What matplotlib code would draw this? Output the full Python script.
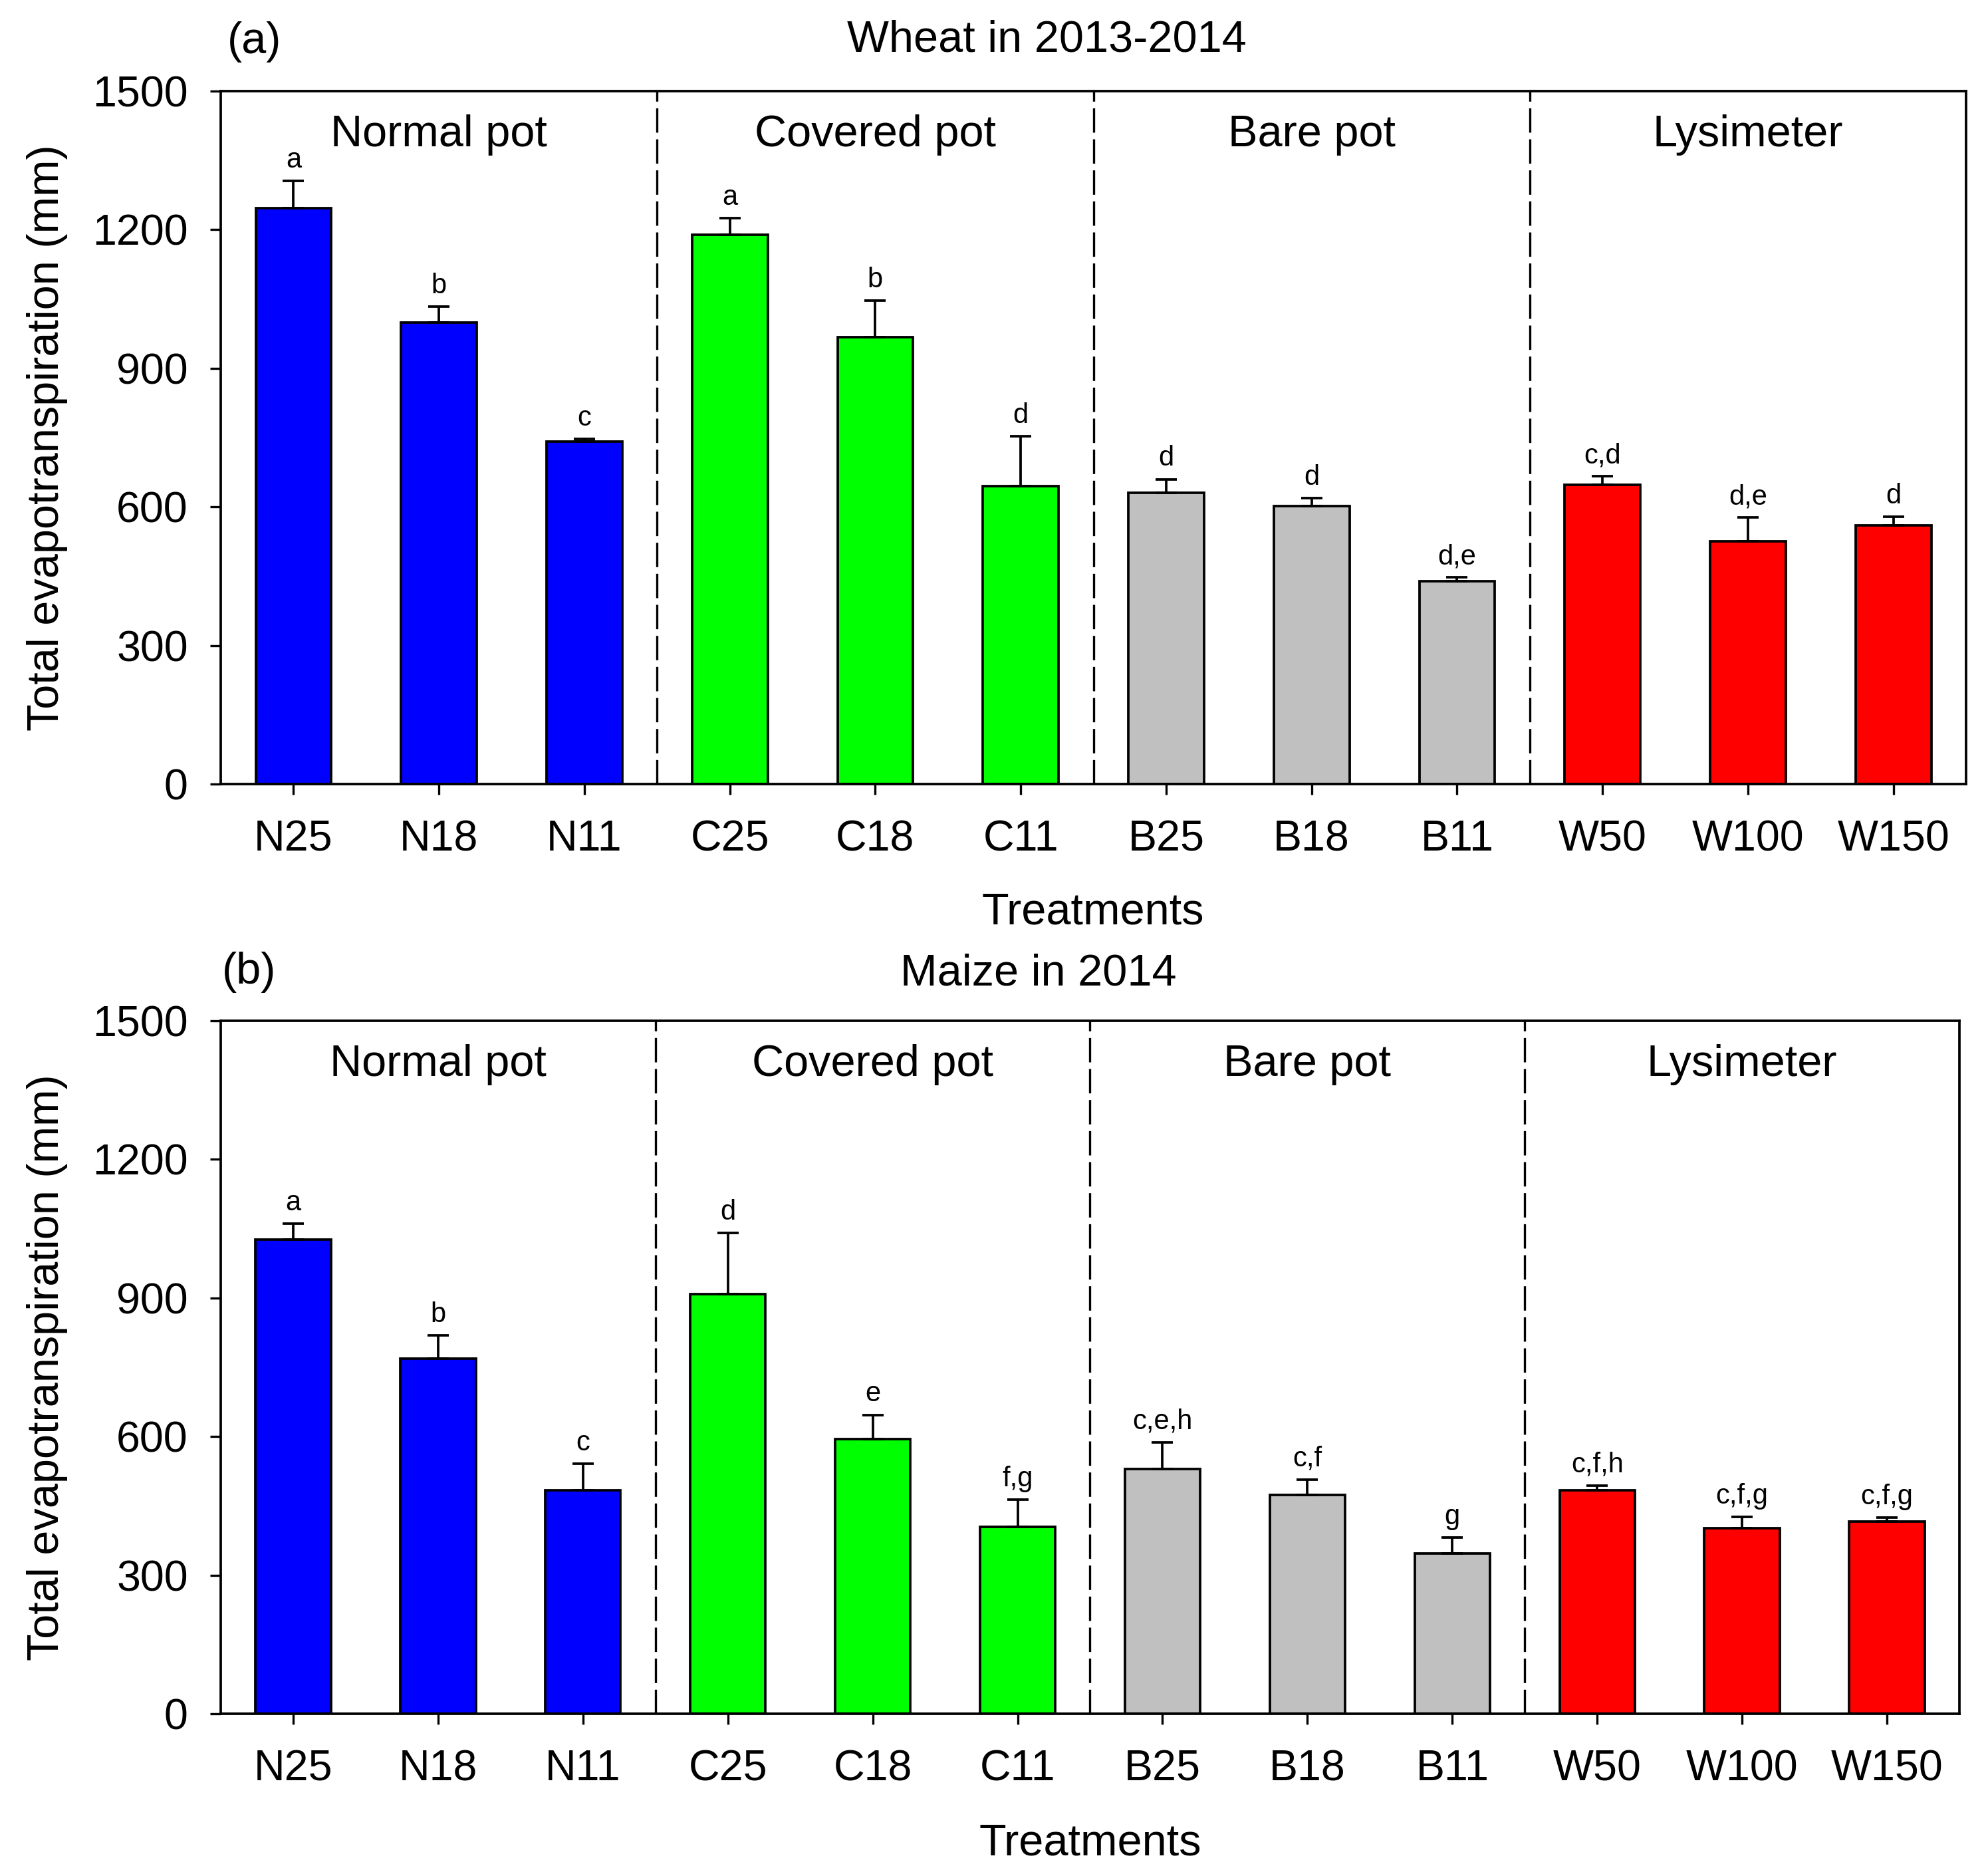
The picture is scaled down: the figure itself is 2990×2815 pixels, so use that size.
import matplotlib
matplotlib.use("Agg")
import matplotlib.pyplot as plt
import numpy as np

plt.rcParams['font.family'] = ['Liberation Sans', 'DejaVu Sans']

treatments = ["N25", "N18", "N11", "C25", "C18", "C11", "B25", "B18", "B11", "W50", "W100", "W150"]
groups = ["Normal pot", "Covered pot", "Bare pot", "Lysimeter"]
group_colors = ["#0000FF", "#00FF00", "#C0C0C0", "#FF0000"]

wheat_et = [1247, 999, 742, 1189, 968, 645, 631, 602, 439, 648, 525, 560]
wheat_se = [59, 34, 5, 36, 79, 108, 29, 17, 8, 18, 52, 18]
wheat_letters = ["a", "b", "c", "a", "b", "d", "d", "d", "d,e", "c,d", "d,e", "d"]

maize_et = [1027, 769, 484, 909, 594, 404, 530, 473, 347, 483, 401, 416]
maize_se = [34, 50, 57, 132, 53, 59, 58, 34, 34, 11, 25, 8]
maize_letters = ["a", "b", "c", "d", "e", "f,g", "c,e,h", "c,f", "g", "c,f,h", "c,f,g", "c,f,g"]

W, H = 2990, 2815
fig = plt.figure(figsize=(W / 300, H / 300), dpi=300)

def fx(px):
    return px / W

def fy(py):
    return 1 - py / H

def panel(rect, vals, errs, letters):
    ax = fig.add_axes(rect)
    x = np.arange(len(treatments))
    colors = [group_colors[i // 3] for i in range(len(treatments))]
    ax.bar(x, vals, width=0.52, color=colors, edgecolor="black", linewidth=0.9, zorder=2)
    ax.errorbar(x, vals, yerr=[np.zeros(len(vals)), errs], fmt="none", ecolor="black",
                elinewidth=0.9, capsize=3.8, capthick=0.9, zorder=3)
    for xi, v, e, lab in zip(x, vals, errs, letters):
        ax.text(xi, v + e + 16, lab, ha="center", va="bottom", fontsize=10)
    for b in [2.5, 5.5, 8.5]:
        ax.axvline(b, color="black", linewidth=0.8, linestyle=(0, (11, 3)), zorder=1)
    for gi, g in enumerate(groups):
        ax.text(3 * gi + 1, 1405, g, ha="center", va="center", fontsize=16)
    ax.set_xlim(-0.5, 11.5)
    ax.set_ylim(0, 1500)
    ax.set_yticks([0, 300, 600, 900, 1200, 1500])
    ax.set_xticks(x)
    ax.set_xticklabels(treatments)
    ax.tick_params(axis="both", direction="out", labelsize=15.5, width=0.8, length=3.8)
    ax.tick_params(axis="x", pad=9)
    ax.tick_params(axis="y", pad=8)
    for s in ax.spines.values():
        s.set_linewidth(0.9)
    return ax

# top panel
ax1 = panel([fx(332), fy(1179), fx(2957) - fx(332), fy(137) - fy(1179)], wheat_et, wheat_se, wheat_letters)
fig.text(fx(342), fy(63), "(a)", ha="left", va="center", fontsize=16)
fig.text(fx(1574), fy(61), "Wheat in 2013-2014", ha="center", va="center", fontsize=16)
fig.text(fx(1644), fy(1373), "Treatments", ha="center", va="center", fontsize=16)
fig.text(fx(71), (fy(1179) + fy(137)) / 2, "Total evapotranspiration (mm)", rotation=90,
         ha="center", va="center", fontsize=16)

# bottom panel
ax2 = panel([fx(332), fy(2577), fx(2947) - fx(332), fy(1535) - fy(2577)], maize_et, maize_se, maize_letters)
fig.text(fx(334), fy(1462), "(b)", ha="left", va="center", fontsize=16)
fig.text(fx(1562), fy(1464), "Maize in 2014", ha="center", va="center", fontsize=16)
fig.text(fx(1640), fy(2773), "Treatments", ha="center", va="center", fontsize=16)
fig.text(fx(71), (fy(2577) + fy(1535)) / 2, "Total evapotranspiration (mm)", rotation=90,
         ha="center", va="center", fontsize=16)

fig.savefig("out.png", dpi=300, facecolor="white")
